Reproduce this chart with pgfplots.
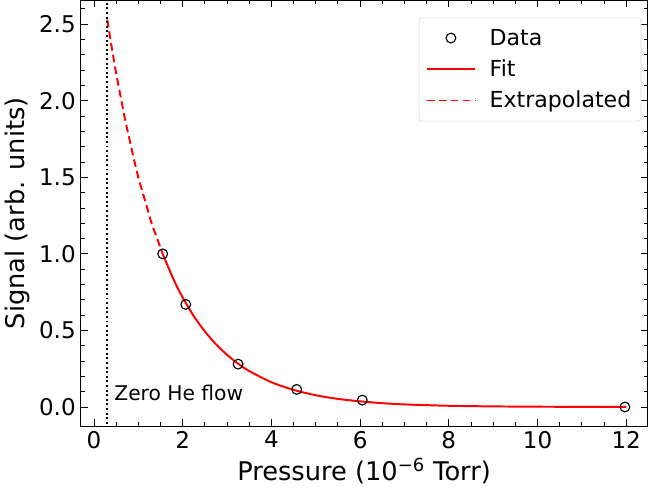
\documentclass[border=0pt]{standalone}
\usepackage{pgfplots}
\pgfplotsset{compat=1.18}
\usepackage{fontspec}
\setmainfont{DejaVu Sans}
\pgfplotsset{
    longline/.style={legend image code/.code={\draw[##1] (0cm,0cm) -- (1.2cm,0cm);}},
    centermark/.style={legend image code/.code={\draw[##1] plot coordinates {(0.6cm,0cm)};}},
}
\begin{document}
\begin{tikzpicture}
\begin{axis}[
    scale only axis,
    width=5.62in, height=4.22in,
    xmin=-0.3, xmax=12.48,
    ymin=-0.125, ymax=2.655,
    xtick={0,2,4,6,8,10,12},
    xticklabels={0,2,4,6,8,10,12},
    ytick={0,0.5,1.0,1.5,2.0,2.5},
    yticklabels={0.0,0.5,1.0,1.5,2.0,2.5},
    tick label style={font=\fontsize{16.5}{19}\selectfont},
    minor xtick={0.5,1,...,12},
    minor ytick={0.1,0.2,...,2.6},
    tick align=inside,
    xtick pos=both, ytick pos=both,
    major tick length=5pt, minor tick length=2.8pt,
    every tick/.style={black, line width=0.6pt},
    axis line style={line width=0.7pt},
    xlabel={Pressure (10\textsuperscript{\char"2212 6} Torr)},
    ylabel={Signal (arb. units)},
    label style={font=\fontsize{18.4}{21}\selectfont},
    legend style={at={(0.989,0.96)}, anchor=north east, draw=black!15, rounded corners=2pt,
        font=\fontsize{15.8}{18}\selectfont, row sep=5pt, inner xsep=5pt, inner ysep=6pt,
        /tikz/every odd column/.append style={column sep=8pt}},
    legend cell align=left,
]
\addplot[only marks, mark=o, mark size=3.5pt, black, line width=0.8pt, centermark] coordinates {
(1.55,1.00)(2.07,0.67)(3.25,0.28)(4.57,0.115)(6.05,0.045)(11.97,0.0)
};
\addlegendentry{Data}
\addplot[red, line width=1.4pt, smooth, longline] coordinates {
(1.55,1.000)(1.8,0.830)(2.0,0.716)(2.25,0.594)(2.5,0.494)(2.75,0.410)(3.0,0.341)
(3.25,0.283)(3.5,0.235)(4.0,0.162)(4.5,0.112)(5.0,0.077)(5.5,0.053)(6.0,0.037)
(6.5,0.025)(7.0,0.017)(8.0,0.008)(9.0,0.004)(10.0,0.002)(11.0,0.001)(12.0,0.0005)
};
\addlegendentry{Fit}
\addplot[red, line width=1.4pt, dash pattern=on 5.5pt off 3pt, smooth, longline] coordinates {
(0.3,2.53)(0.4,2.35)(0.5,2.18)(0.6,2.03)(0.7,1.88)(0.8,1.75)(0.9,1.62)(1.0,1.50)
(1.1,1.40)(1.2,1.30)(1.3,1.20)(1.4,1.12)(1.55,1.00)
};
\addlegendentry{Extrapolated}
\addplot[black, line width=1.4pt, dash pattern=on 1.4pt off 1.9pt, forget plot] coordinates {(0.3,-0.2)(0.3,2.8)};
\node[anchor=west, font=\fontsize{14.5}{16}\selectfont] at (axis cs:0.35,0.095) {Zero He flow};
\end{axis}
\end{tikzpicture}
\end{document}
